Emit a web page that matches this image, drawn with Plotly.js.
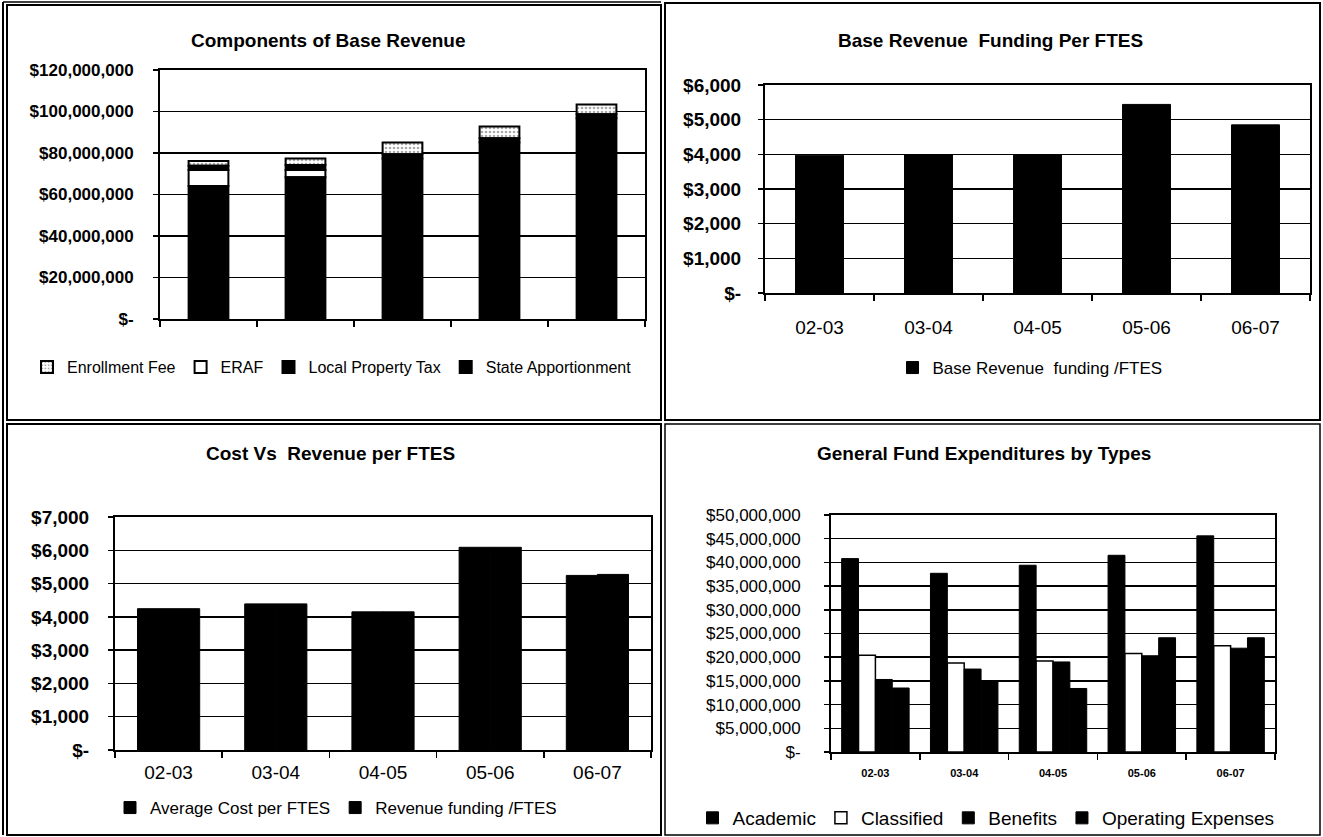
<!DOCTYPE html>
<html><head><meta charset="utf-8">
<script src="https://cdn.plot.ly/plotly-3.0.1.min.js"></script>
<style>html,body{margin:0;padding:0;background:#fff;} #chart{width:1323px;height:837px;}</style>
</head><body><div id="chart"></div>
<script>
// ---------- data ----------
const years = ['02-03', '03-04', '04-05', '05-06', '06-07'];

// Components of Base Revenue ($), stacked bottom -> top: State Apportionment, ERAF, Local Property Tax, Enrollment Fee
const stateApportionment = [64100000, 68300000, 77400000, 85100000, 96700000];
const eraf               = [7700000, 3500000, 0, 0, 0];
const localPropertyTax   = [2100000, 2400000, 2000000, 2000000, 2000000];
const enrollmentFee      = [2200000, 3100000, 5700000, 5700000, 4700000];

// Base Revenue Funding Per FTES ($)
const baseRevenuePerFTES = [3975, 3985, 3980, 5440, 4850];

// Cost Vs Revenue per FTES ($)
const avgCostPerFTES        = [4245, 4390, 4150, 6090, 5245];
const revenueFundingPerFTES = [4245, 4390, 4150, 6090, 5275];

// General Fund Expenditures by Types ($)
const academic          = [40800000, 37700000, 39400000, 41500000, 45600000];
const classified        = [20400000, 18800000, 19200000, 20800000, 22400000];
const benefits          = [15300000, 17500000, 19000000, 20300000, 21900000];
const operatingExpenses = [13500000, 15000000, 13400000, 24100000, 24100000];

// tick labels
const revTickVals  = [0, 20000000, 40000000, 60000000, 80000000, 100000000, 120000000];
const revTickText  = ['$-', '$20,000,000', '$40,000,000', '$60,000,000', '$80,000,000', '$100,000,000', '$120,000,000'];
const fundTickVals = [0, 1000, 2000, 3000, 4000, 5000, 6000];
const fundTickText = ['$-', '$1,000', '$2,000', '$3,000', '$4,000', '$5,000', '$6,000'];
const costTickVals = [0, 1000, 2000, 3000, 4000, 5000, 6000, 7000];
const costTickText = ['$-', '$1,000', '$2,000', '$3,000', '$4,000', '$5,000', '$6,000', '$7,000'];
const expTickVals  = [0, 5000000, 10000000, 15000000, 20000000, 25000000, 30000000, 35000000, 40000000, 45000000, 50000000];
const expTickText  = ['$-', '$5,000,000', '$10,000,000', '$15,000,000', '$20,000,000', '$25,000,000', '$30,000,000', '$35,000,000', '$40,000,000', '$45,000,000', '$50,000,000'];

// ---------- geometry helpers ----------
const W = 1323, H = 837;
const px = v => v / W;
const py = v => 1 - v / H;
const FONT = 'Liberation Sans, Arial, sans-serif';

const sum = (...arrs) => arrs[0].map((_, i) => arrs.reduce((s, a) => s + a[i], 0));
const baseERAF = stateApportionment.slice();
const baseLPT  = sum(stateApportionment, eraf);
const baseEF   = sum(stateApportionment, eraf, localPropertyTax);

const blackLine = w => ({color: '#000', width: w});

const traces = [
  // Panel 1 (legend order: Enrollment Fee, ERAF, Local Property Tax, State Apportionment)
  {type: 'bar', name: 'Enrollment Fee', x: years, y: enrollmentFee, base: baseEF, width: 0.41,
   xaxis: 'x', yaxis: 'y', legend: 'legend',
   marker: {color: '#ffffff', line: blackLine(2),
            pattern: {shape: '.', fillmode: 'overlay', fgcolor: '#555', bgcolor: '#fff', size: 4, solidity: 0.35}}},
  {type: 'bar', name: 'ERAF', x: years, y: eraf, base: baseERAF, width: 0.41,
   xaxis: 'x', yaxis: 'y', legend: 'legend',
   marker: {color: '#ffffff', line: blackLine(2)}},
  {type: 'bar', name: 'Local Property Tax', x: years, y: localPropertyTax, base: baseLPT, width: 0.41,
   xaxis: 'x', yaxis: 'y', legend: 'legend',
   marker: {color: '#000000', line: blackLine(2)}},
  {type: 'bar', name: 'State Apportionment', x: years, y: stateApportionment, width: 0.41,
   xaxis: 'x', yaxis: 'y', legend: 'legend',
   marker: {color: '#000000', line: blackLine(2)}},

  // Panel 2
  {type: 'bar', name: 'Base Revenue  funding /FTES', x: years, y: baseRevenuePerFTES, width: 0.44,
   xaxis: 'x2', yaxis: 'y2', legend: 'legend2',
   marker: {color: '#000000', line: blackLine(1)}},

  // Panel 3
  {type: 'bar', name: 'Average Cost per FTES', x: years, y: avgCostPerFTES, width: 0.29, offset: -0.29,
   xaxis: 'x3', yaxis: 'y3', legend: 'legend3',
   marker: {color: '#000000', line: blackLine(1)}},
  {type: 'bar', name: 'Revenue funding /FTES', x: years, y: revenueFundingPerFTES, width: 0.29, offset: 0,
   xaxis: 'x3', yaxis: 'y3', legend: 'legend3',
   marker: {color: '#000000', line: blackLine(1)}},

  // Panel 4
  {type: 'bar', name: 'Academic', x: years, y: academic, width: 0.19, offset: -0.38,
   xaxis: 'x4', yaxis: 'y4', legend: 'legend4',
   marker: {color: '#000000', line: blackLine(1)}},
  {type: 'bar', name: 'Classified', x: years, y: classified, width: 0.19, offset: -0.19,
   xaxis: 'x4', yaxis: 'y4', legend: 'legend4',
   marker: {color: '#ffffff', line: blackLine(1.5)}},
  {type: 'bar', name: 'Benefits', x: years, y: benefits, width: 0.19, offset: 0,
   xaxis: 'x4', yaxis: 'y4', legend: 'legend4',
   marker: {color: '#000000', line: blackLine(1)}},
  {type: 'bar', name: 'Operating Expenses', x: years, y: operatingExpenses, width: 0.19, offset: 0.19,
   xaxis: 'x4', yaxis: 'y4', legend: 'legend4',
   marker: {color: '#000000', line: blackLine(1)}}
];

function xAxis(d0, d1, anchor, showLabels, fontSize, bold, standoff) {
  return {
    domain: [px(d0), px(d1)], anchor: anchor, type: 'category', categoryarray: years,
    range: [-0.5, 4.5], showgrid: false, zeroline: false,
    showline: true, mirror: true, linecolor: '#000', linewidth: 2,
    ticks: 'outside', tickson: 'boundaries', ticklen: 6, tickcolor: '#000', tickwidth: 1.5,
    showticklabels: showLabels, ticklabelstandoff: standoff,
    tickfont: {family: FONT, size: fontSize, color: '#000', weight: bold ? 700 : 400},
    fixedrange: true
  };
}
function yAxis(top, bottom, anchor, range, vals, text, fontSize, bold, standoff) {
  return {
    domain: [py(bottom), py(top)], anchor: anchor, range: range,
    tickmode: 'array', tickvals: vals, ticktext: text,
    showgrid: true, gridcolor: '#000', gridwidth: 1.5, zeroline: false,
    showline: true, mirror: true, linecolor: '#000', linewidth: 2,
    ticks: 'outside', ticklen: 5, tickcolor: '#000', tickwidth: 1.5,
    ticklabelstandoff: standoff,
    tickfont: {family: FONT, size: fontSize, color: '#000', weight: bold ? 700 : 400},
    fixedrange: true
  };
}
function legendAt(cx, cy, size) {
  return {orientation: 'h', x: px(cx), y: py(cy), xanchor: 'center', yanchor: 'middle',
          xref: 'paper', yref: 'paper', traceorder: 'normal', itemwidth: 30,
          bgcolor: 'rgba(0,0,0,0)', font: {family: FONT, size: size, color: '#000'}};
}
function title(text, cx, cy) {
  return {text: text, x: px(cx), y: py(cy), xref: 'paper', yref: 'paper',
          xanchor: 'center', yanchor: 'middle', showarrow: false,
          font: {family: FONT, size: 19, color: '#000', weight: 700}};
}
function frame(x0, y0, x1, y1, w) {
  return {type: 'rect', xref: 'paper', yref: 'paper', x0: px(x0), x1: px(x1), y0: py(y1), y1: py(y0),
          line: {color: '#000', width: w}, fillcolor: 'rgba(0,0,0,0)', layer: 'below'};
}

const layout = {
  width: W, height: H, margin: {l: 0, r: 0, t: 0, b: 0},
  paper_bgcolor: '#fff', plot_bgcolor: '#fff',
  barmode: 'overlay', showlegend: true,
  font: {family: FONT, color: '#000'},
  xaxis:  xAxis(160, 645, 'y', false, 15, true, 0),
  yaxis:  yAxis(70, 319, 'x', [0, 120000000], revTickVals, revTickText, 17, true, 16),
  xaxis2: xAxis(765, 1310, 'y2', true, 19, false, 16),
  yaxis2: yAxis(85, 293, 'x2', [0, 6000], fundTickVals, fundTickText, 19, true, 13),
  xaxis3: xAxis(115, 651, 'y3', true, 19, false, 4),
  yaxis3: yAxis(517, 750, 'x3', [0, 7000], costTickVals, costTickText, 19, true, 15),
  xaxis4: xAxis(831, 1275, 'y4', true, 11, true, 10),
  yaxis4: yAxis(515, 752, 'x4', [0, 50000000], expTickVals, expTickText, 17, false, 20),
  legend:  legendAt(332, 367, 16),
  legend2: legendAt(1030, 368, 17),
  legend3: legendAt(336, 808, 17),
  legend4: legendAt(986, 818, 19),
  annotations: [
    title('Components of Base Revenue', 328, 41),
    title('Base Revenue  Funding Per FTES', 990, 40),
    title('Cost Vs  Revenue per FTES', 330, 453),
    title('General Fund Expenditures by Types', 984, 453)
  ],
  shapes: [
    frame(7, 5, 661, 420, 2),
    frame(665, 3, 1320, 420, 2),
    frame(7, 424, 661, 835, 2),
    frame(665, 424, 1320, 835, 1.5),
    {type: 'line', xref: 'paper', yref: 'paper', x0: px(3), x1: px(3), y0: py(835), y1: py(2),
     line: {color: '#000', width: 2}},
    {type: 'line', xref: 'paper', yref: 'paper', x0: px(3), x1: px(661), y0: py(2), y1: py(2),
     line: {color: '#000', width: 1.5}}
  ]
};

Plotly.newPlot('chart', traces, layout, {displayModeBar: false, staticPlot: true});
</script>
</body></html>
